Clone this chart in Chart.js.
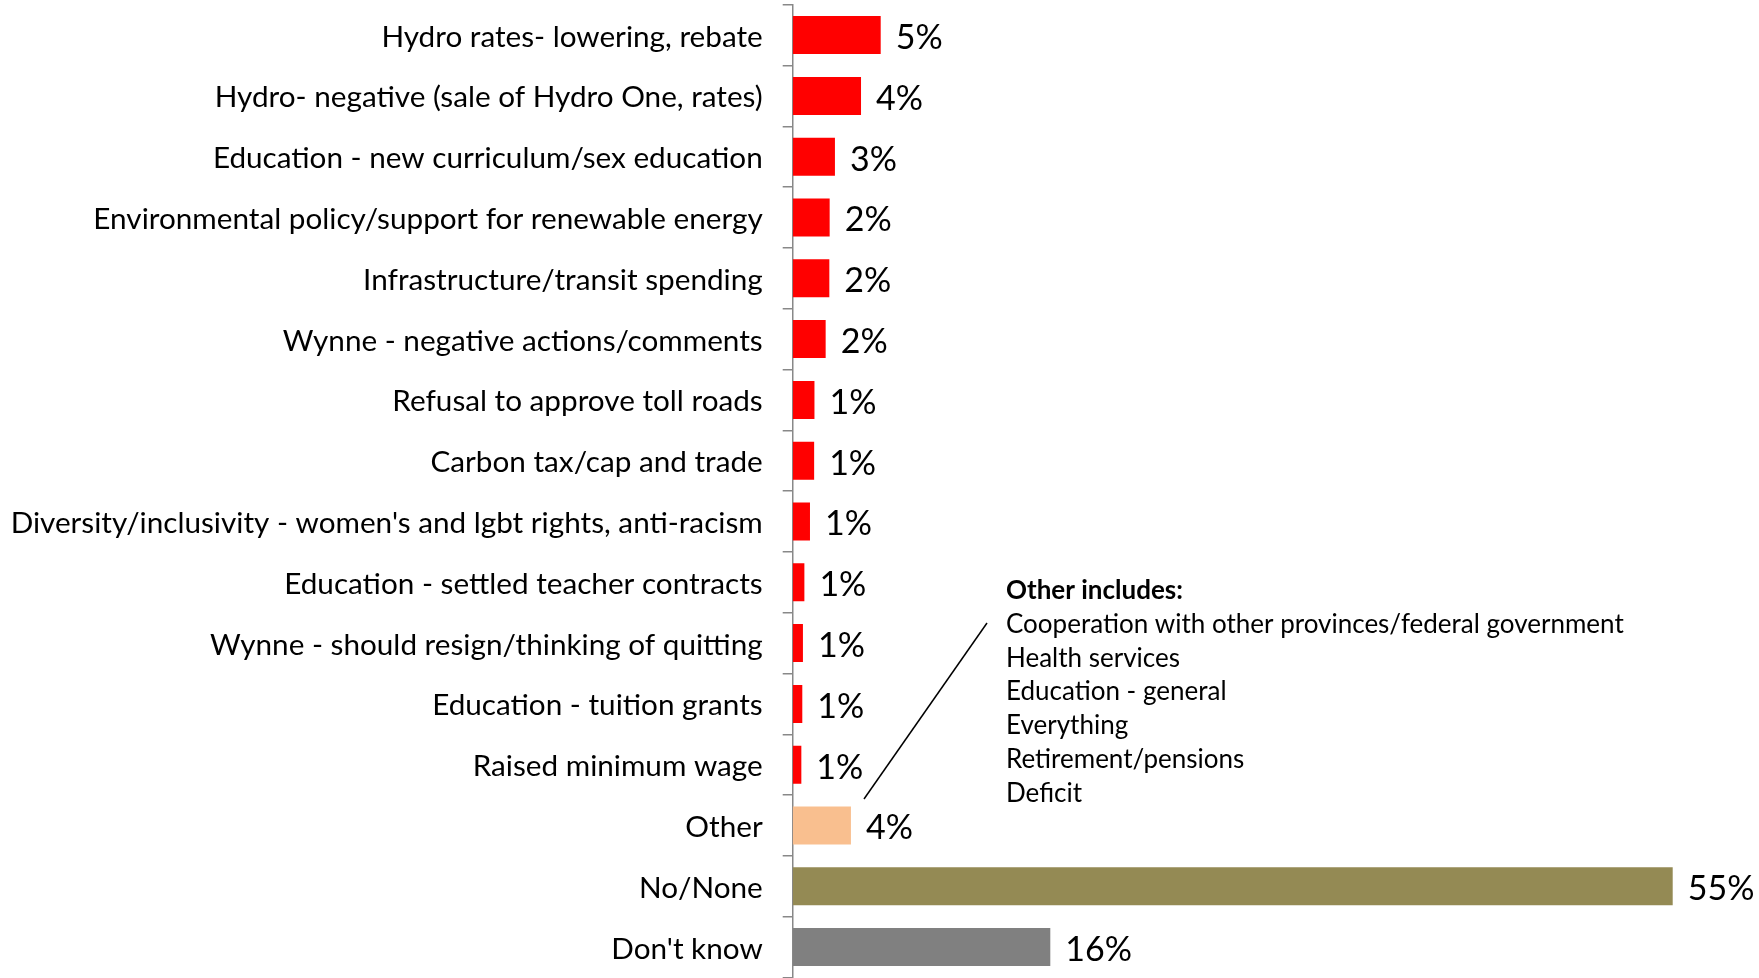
<!DOCTYPE html>
<html>
<head>
<meta charset="utf-8">
<script src="https://cdn.jsdelivr.net/npm/chart.js@4"></script>
<style>
html,body{margin:0;padding:0;background:#fff;}
#wrap{width:1759px;height:978px;position:relative;}
</style>
</head>
<body>
<div id="wrap"><canvas id="c" width="1759" height="978"></canvas></div>
<script>
const categories = [
  "Hydro rates- lowering, rebate",
  "Hydro- negative (sale of Hydro One, rates)",
  "Education - new curriculum/sex education",
  "Environmental policy/support for renewable energy",
  "Infrastructure/transit spending",
  "Wynne - negative actions/comments",
  "Refusal to approve toll roads",
  "Carbon tax/cap and trade",
  "Diversity/inclusivity - women's and lgbt rights, anti-racism",
  "Education - settled teacher contracts",
  "Wynne - should resign/thinking of quitting",
  "Education - tuition grants",
  "Raised minimum wage",
  "Other",
  "No/None",
  "Don't know"
];
const values = [5.5, 4.27, 2.64, 2.31, 2.29, 2.06, 1.36, 1.34, 1.08, 0.73, 0.64, 0.6, 0.54, 3.64, 55, 16.1];
const valueLabels = ["5%","4%","3%","2%","2%","2%","1%","1%","1%","1%","1%","1%","1%","4%","55%","16%"];
const barColors = ["#FF0000","#FF0000","#FF0000","#FF0000","#FF0000","#FF0000","#FF0000","#FF0000","#FF0000","#FF0000","#FF0000","#FF0000","#FF0000","#F9BF8F","#948A54","#808080"];
const otherTitle = "Other includes:";
const otherItems = [
  "Cooperation with other provinces/federal government",
  "Health services",
  "Education - general",
  "Everything",
  "Retirement/pensions",
  "Deficit"
];

const FONT = "Lato, 'Open Sans', sans-serif";

const labelPlugin = {
  id: 'valueLabels',
  afterDatasetsDraw(chart) {
    const ctx = chart.ctx;
    const meta = chart.getDatasetMeta(0);
    ctx.save();
    ctx.fillStyle = '#000';
    ctx.font = "34px " + FONT;
    ctx.textAlign = 'left';
    ctx.textBaseline = 'middle';
    meta.data.forEach((bar, i) => {
      ctx.fillText(valueLabels[i], bar.x + 15, bar.y + 3);
    });
    ctx.restore();
  },
  afterDraw(chart) {
    const ctx = chart.ctx;
    ctx.save();
    // leader line
    ctx.strokeStyle = '#000';
    ctx.lineWidth = 1.5;
    ctx.beginPath();
    ctx.moveTo(864, 799);
    ctx.lineTo(987, 623);
    ctx.stroke();
    // annotation text
    ctx.fillStyle = '#000';
    ctx.textAlign = 'left';
    ctx.textBaseline = 'middle';
    const x0 = 1006, y0 = 591, lh = 33.7;
    ctx.font = "bold 26px " + FONT;
    ctx.fillText(otherTitle, x0, y0);
    ctx.font = "26px " + FONT;
    otherItems.forEach((t, i) => ctx.fillText(t, x0, y0 + lh * (i + 1)));
    ctx.restore();
  }
};

new Chart(document.getElementById('c'), {
  type: 'bar',
  data: {
    labels: categories,
    datasets: [{
      data: values,
      backgroundColor: barColors,
      borderWidth: 0,
      categoryPercentage: 1.0,
      barPercentage: 0.625
    }]
  },
  options: {
    indexAxis: 'y',
    responsive: false,
    animation: false,
    devicePixelRatio: 1,
    layout: { padding: { top: 4.7, bottom: 0.5, left: 0, right: 6.3 } },
    plugins: { legend: { display: false }, tooltip: { enabled: false } },
    scales: {
      x: { display: false, min: 0, max: 60 },
      y: {
        afterFit(scale) {
          scale.width = 792.7;
          scale.paddingTop = 0;
          scale.paddingBottom = 0;
        },
        grid: {
          offset: true,
          drawOnChartArea: false,
          drawTicks: true,
          tickLength: 10,
          tickColor: '#888',
          lineWidth: 1.5
        },
        border: { display: true, color: '#888', width: 1.5 },
        ticks: {
          color: '#000',
          padding: 20,
          labelOffset: 2,
          autoSkip: false,
          font: { family: FONT, size: 29.7 }
        }
      }
    }
  },
  plugins: [labelPlugin]
});
</script>
</body>
</html>
